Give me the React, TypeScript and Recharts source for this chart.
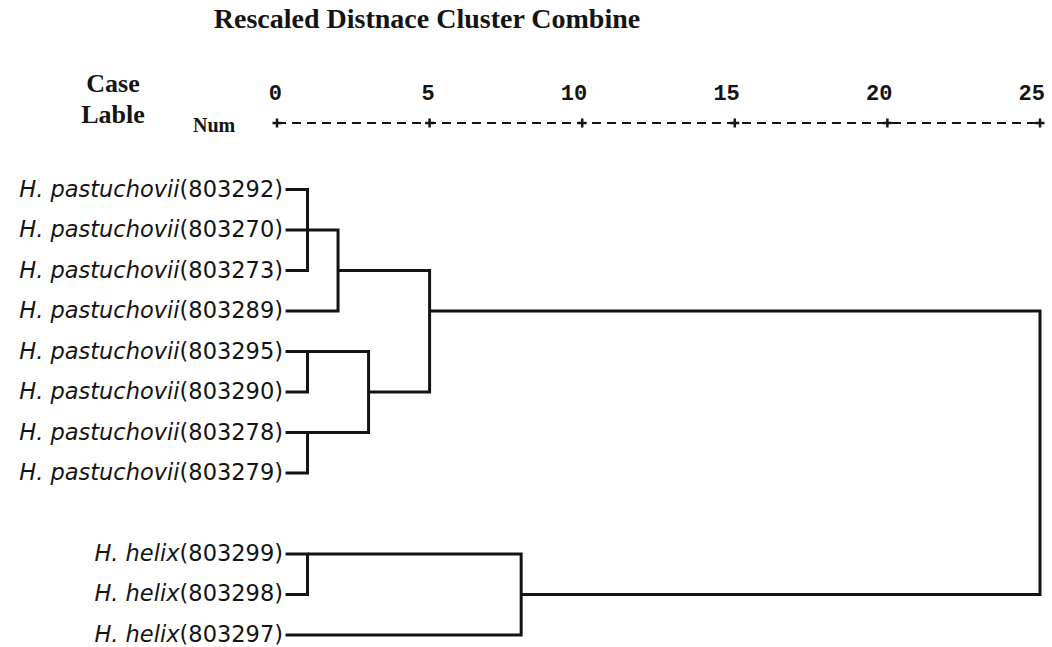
import { ScatterChart, Scatter, XAxis, YAxis } from "recharts";

// Leaves, top to bottom (row 8 is a blank spacer row between the two species).
const leafSpecies = [
  "H. pastuchovii",
  "H. pastuchovii",
  "H. pastuchovii",
  "H. pastuchovii",
  "H. pastuchovii",
  "H. pastuchovii",
  "H. pastuchovii",
  "H. pastuchovii",
  "H. helix",
  "H. helix",
  "H. helix",
];
const leafIds = [
  "803292",
  "803270",
  "803273",
  "803289",
  "803295",
  "803290",
  "803278",
  "803279",
  "803299",
  "803298",
  "803297",
];
const leafRows = [0, 1, 2, 3, 4, 5, 6, 7, 9, 10, 11];
const leafStart = 0.28;

// Each bracket: vertical at `dist`, joining an upper arm and a lower arm.
const bracketTop = [0, 1, 4, 6, 4, 2, 9, 9, 3];
const bracketBottom = [2, 3, 5, 7, 6, 5, 10, 11, 10];
const bracketTopFrom = [leafStart, leafStart, leafStart, leafStart, 1, 2, leafStart, 1, 5];
const bracketBottomFrom = [leafStart, leafStart, leafStart, leafStart, 1, 3, leafStart, leafStart, 8];
const bracketDist = [1, 2, 1, 1, 3, 5, 1, 8, 25];

const distTicks = [0, 5, 10, 15, 20, 25];

const brackets = bracketDist.map((d, i) => [
  { x: bracketTopFrom[i], y: bracketTop[i] },
  { x: d, y: bracketTop[i] },
  { x: d, y: bracketBottom[i] },
  { x: bracketBottomFrom[i], y: bracketBottom[i] },
]);

const INK = "#141414";

function LeafTick({ x, y, payload }: any) {
  const i = leafRows.indexOf(payload.value);
  if (i < 0) return null;
  return (
    <text
      x={x + 6}
      y={y + 7}
      textAnchor="end"
      fontFamily="DejaVu Sans"
      fontSize={22.5}
      fill={INK}
    >
      <tspan fontStyle="italic">{leafSpecies[i]}</tspan>
      <tspan>({leafIds[i]})</tspan>
    </text>
  );
}

function DistTick({ x, y, payload }: any) {
  return (
    <g>
      <text
        x={x + 5}
        y={y - 23}
        textAnchor="end"
        fontFamily="Liberation Mono"
        fontWeight="bold"
        fontSize={22}
        fill={INK}
      >
        {payload.value}
      </text>
      <path
        d={`M${x - 4.5},${y} H${x + 4.5} M${x},${y - 4.5} V${y + 4.5}`}
        stroke={INK}
        strokeWidth={2.5}
      />
    </g>
  );
}

export default function App() {
  return (
    <div style={{ position: "absolute", left: 0, top: 0, width: 1052, height: 647, background: "#fff" }}>
      <ScatterChart
        width={1052}
        height={647}
        margin={{ top: 83, right: 12, bottom: 6, left: 0 }}
      >
        <XAxis
          type="number"
          dataKey="x"
          orientation="top"
          domain={[0, 25]}
          ticks={distTicks}
          height={40}
          tickSize={0}
          tickMargin={0}
          tickLine={false}
          axisLine={{ stroke: INK, strokeWidth: 2, strokeDasharray: "9 6" }}
          tick={<DistTick />}
          interval={0}
        />
        <YAxis
          type="number"
          dataKey="y"
          reversed
          domain={[-1.645, 11.15]}
          ticks={leafRows}
          width={277}
          tickSize={0}
          tickMargin={0}
          axisLine={false}
          tickLine={false}
          tick={<LeafTick />}
          interval={0}
        />
        {brackets.map((pts, i) => (
          <Scatter
            key={i}
            data={pts}
            line={{ stroke: INK, strokeWidth: 3, strokeLinejoin: "miter" }}
            lineType="joint"
            shape={() => <g />}
            isAnimationActive={false}
          />
        ))}
      </ScatterChart>
      <svg
        width={1052}
        height={140}
        style={{ position: "absolute", left: 0, top: 0, pointerEvents: "none" }}
      >
        <text
          x={427}
          y={28}
          textAnchor="middle"
          fontFamily="Liberation Serif"
          fontWeight="bold"
          fontSize={28}
          fill={INK}
        >
          Rescaled Distnace Cluster Combine
        </text>
        <text x={113} y={92} textAnchor="middle" fontFamily="Liberation Serif" fontWeight="bold" fontSize={26} fill={INK}>
          Case
        </text>
        <text x={113} y={123} textAnchor="middle" fontFamily="Liberation Serif" fontWeight="bold" fontSize={26} fill={INK}>
          Lable
        </text>
        <text x={193} y={132} fontFamily="Liberation Serif" fontWeight="bold" fontSize={20} fill={INK}>
          Num
        </text>
      </svg>
    </div>
  );
}
